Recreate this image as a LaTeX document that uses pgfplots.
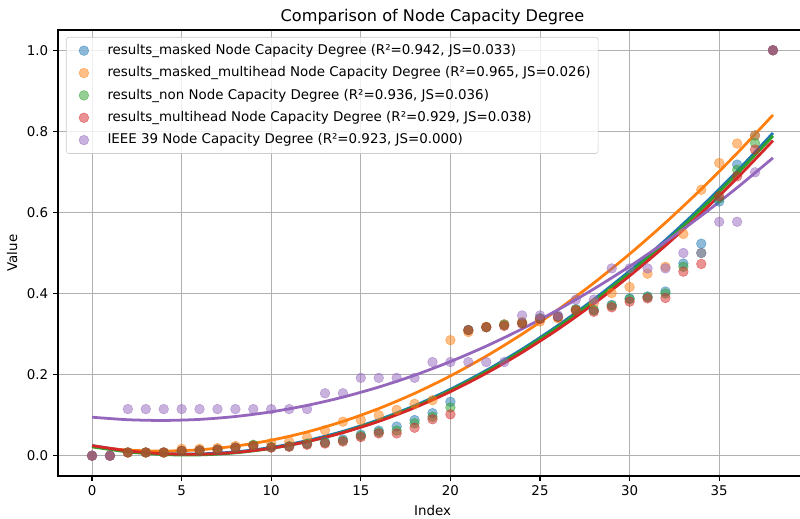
\documentclass[border=0pt]{standalone}
\usepackage{fontspec}
\setmainfont{DejaVu Sans}
\usepackage{pgfplots}
\usepackage{pgfplotstable}
\pgfplotsset{compat=1.18}
\definecolor{tblue}{HTML}{1F77B4}
\definecolor{torange}{HTML}{FF7F0E}
\definecolor{tgreen}{HTML}{2CA02C}
\definecolor{tred}{HTML}{D62728}
\definecolor{tpurple}{HTML}{9467BD}
\definecolor{gridc}{HTML}{B0B0B0}

\pgfplotsset{scat/.style={only marks, mark=*, mark size=3.5pt,
  mark options={draw=#1, fill=#1, opacity=0.5},
  legend image code/.code={\path (-9pt,0pt) (14.8pt,0pt); \draw[##1] plot coordinates {(0pt,0pt)};}}}

\pgfplotstableread{
idx b o g r p
0 0 0 0 0 0
1 0 0 0 0 0
2 0.008 0.008 0.008 0.008 0.115
3 0.008 0.008 0.008 0.008 0.115
4 0.008 0.008 0.008 0.008 0.115
5 0.012 0.017 0.012 0.012 0.115
6 0.013 0.017 0.013 0.013 0.115
7 0.015 0.019 0.015 0.015 0.115
8 0.020 0.024 0.020 0.020 0.115
9 0.025 0.026 0.027 0.024 0.115
10 0.021 0.031 0.021 0.020 0.115
11 0.024 0.035 0.023 0.022 0.115
12 0.030 0.045 0.029 0.027 0.115
13 0.034 0.063 0.032 0.030 0.154
14 0.040 0.084 0.037 0.035 0.154
15 0.052 0.088 0.049 0.046 0.192
16 0.062 0.100 0.058 0.055 0.192
17 0.072 0.113 0.062 0.055 0.192
18 0.088 0.128 0.080 0.069 0.192
19 0.105 0.137 0.096 0.090 0.231
20 0.133 0.285 0.119 0.102 0.231
21 0.310 0.305 0.310 0.310 0.231
22 0.317 0.318 0.317 0.317 0.231
23 0.324 0.324 0.322 0.320 0.231
24 0.328 0.330 0.327 0.326 0.346
25 0.339 0.331 0.339 0.337 0.346
26 0.343 0.339 0.343 0.342 0.346
27 0.362 0.360 0.360 0.358 0.385
28 0.360 0.376 0.358 0.355 0.385
29 0.372 0.401 0.370 0.366 0.462
30 0.388 0.416 0.386 0.380 0.462
31 0.393 0.449 0.391 0.388 0.462
32 0.405 0.466 0.400 0.389 0.462
33 0.474 0.547 0.466 0.454 0.500
34 0.523 0.656 0.500 0.473 0.500
35 0.627 0.722 0.635 0.640 0.577
36 0.718 0.770 0.705 0.689 0.577
37 0.790 0.790 0.771 0.755 0.699
38 1.000 1.000 1.000 1.000 1.000
}\scatdata

\pgfplotstableread{
x fb fo fg fr fp
0 0.0250 0.0220 0.0220 0.0250 0.0950
2 0.0122 0.0139 0.0094 0.0120 0.0888
4 0.0054 0.0115 0.0028 0.0049 0.0870
6 0.0045 0.0147 0.0020 0.0036 0.0896
8 0.0095 0.0237 0.0070 0.0081 0.0967
10 0.0204 0.0383 0.0180 0.0185 0.1082
12 0.0373 0.0586 0.0348 0.0347 0.1241
14 0.0601 0.0846 0.0576 0.0568 0.1445
16 0.0888 0.1163 0.0862 0.0847 0.1693
18 0.1234 0.1537 0.1206 0.1184 0.1985
20 0.1640 0.1968 0.1610 0.1580 0.2322
22 0.2105 0.2456 0.2072 0.2034 0.2703
24 0.2629 0.3000 0.2594 0.2547 0.3128
26 0.3213 0.3602 0.3174 0.3118 0.3598
28 0.3856 0.4260 0.3812 0.3747 0.4112
30 0.4558 0.4975 0.4510 0.4435 0.4670
32 0.5319 0.5747 0.5266 0.5181 0.5273
34 0.6140 0.6576 0.6082 0.5986 0.5919
36 0.7020 0.7462 0.6956 0.6849 0.6611
38 0.7960 0.8404 0.7888 0.7770 0.7346
}\fitdata

\begin{document}
\begin{tikzpicture}
\begin{axis}[
  name=ax, at={(0,0)}, anchor=south west,
  scale only axis, width=539.28pt, height=321.12pt,
  xmin=-1.9, xmax=39.9, ymin=-0.05, ymax=1.05,
  xtick={0,5,...,35}, ytick={0,0.2,...,1.0},
  yticklabel style={/pgf/number format/.cd, fixed, fixed zerofill, precision=1},
  /pgf/number format/assume math mode=true,
  tick label style={font=\fontsize{9.65}{11.5}\selectfont},
  tick align=outside, xtick pos=left, ytick pos=left,
  major tick length=3.5pt,
  every tick/.style={black, line width=0.8pt},
  axis line style={black, line width=0.8pt},
  grid=major, major grid style={gridc, line width=0.7pt},
  xlabel={Index}, ylabel={Value},
  label style={font=\fontsize{9.65}{11.5}\selectfont},
  title={Comparison of Node Capacity Degree},
  title style={font=\fontsize{11.6}{14}\selectfont, yshift=-5.5pt},
  legend style={at={(8/749,1-7/446)}, anchor=north west,
    draw=gray!40, rounded corners=2pt, fill=white, fill opacity=0.8, text opacity=1,
    font=\fontsize{9.65}{11.5}\selectfont, inner xsep=3.5pt, inner ysep=3pt,
    row sep=2.8pt, nodes={text height=7.3pt, text depth=2pt}},
  legend cell align=left,
]
\addplot[scat=tblue] table[x=idx, y=b] {\scatdata};
\addlegendentry{results\_masked Node Capacity Degree (R²=0.942, JS=0.033)}
\addplot[scat=torange] table[x=idx, y=o] {\scatdata};
\addlegendentry{results\_masked\_multihead Node Capacity Degree (R²=0.965, JS=0.026)}
\addplot[scat=tgreen] table[x=idx, y=g] {\scatdata};
\addlegendentry{results\_non Node Capacity Degree (R²=0.936, JS=0.036)}
\addplot[scat=tred] table[x=idx, y=r] {\scatdata};
\addlegendentry{results\_multihead Node Capacity Degree (R²=0.929, JS=0.038)}
\addplot[scat=tpurple] table[x=idx, y=p] {\scatdata};
\addlegendentry{IEEE 39 Node Capacity Degree (R²=0.923, JS=0.000)}
\addplot[tblue, line width=2pt, smooth, no marks, forget plot] table[x=x, y=fb] {\fitdata};
\addplot[torange, line width=2pt, smooth, no marks, forget plot] table[x=x, y=fo] {\fitdata};
\addplot[tgreen, line width=2pt, smooth, no marks, forget plot] table[x=x, y=fg] {\fitdata};
\addplot[tred, line width=2pt, smooth, no marks, forget plot] table[x=x, y=fr] {\fitdata};
\addplot[tpurple, line width=2pt, smooth, no marks, forget plot] table[x=x, y=fp] {\fitdata};
\end{axis}
\pgfresetboundingbox
\path[use as bounding box] (-41.76pt,-30.96pt) rectangle (534.24pt,342.72pt);
\end{tikzpicture}
\end{document}
